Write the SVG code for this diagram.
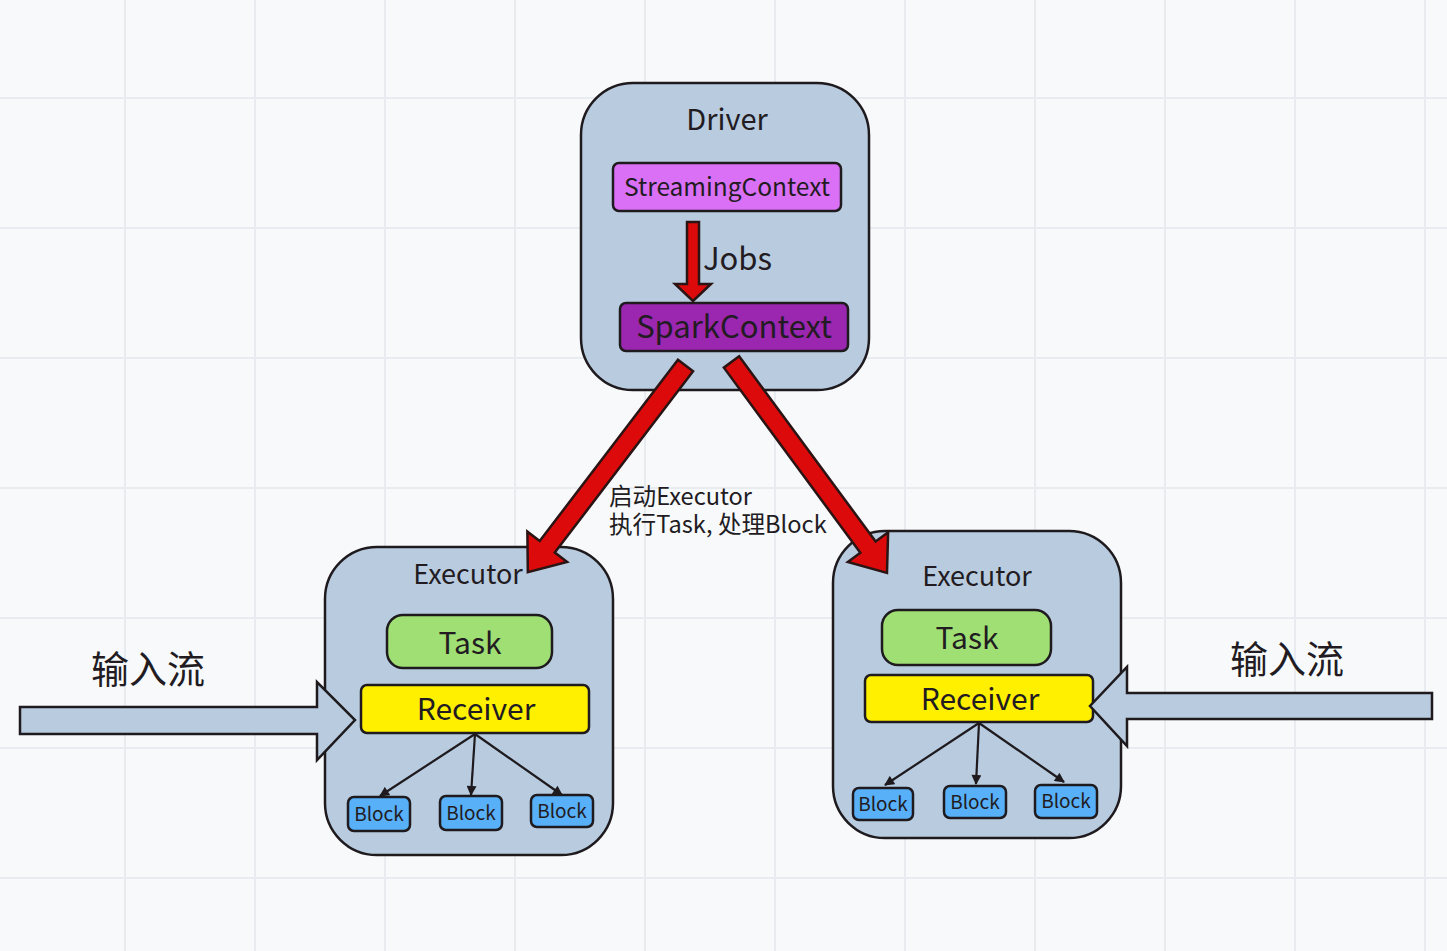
<svg xmlns="http://www.w3.org/2000/svg" width="1447" height="951" viewBox="0 0 1447 951">
<defs>
<style>
text{font-family:"Noto Sans CJK SC","Noto Sans",sans-serif;fill:#221c22;text-anchor:middle}
.cont{fill:#b8cbdf;stroke:#1e1a1e;stroke-width:2.5}
.box{stroke:#1e1a1e;stroke-width:2.5}
.red{fill:#dc0a0a;stroke:#2a1414;stroke-width:2.5;stroke-linejoin:miter}
.in{fill:#b8cbdf;stroke:#1e1a1e;stroke-width:2.5}
.blk{fill:#58b0f8;stroke:#1e1a1e;stroke-width:2.5}
.bt{font-size:19px}
.conn{stroke:#1e1a1e;stroke-width:2.2;fill:none;marker-end:url(#ah)}
.grid{stroke:#e8ebef;stroke-width:2}
</style>
<marker id="ah" viewBox="0 0 10 10" refX="9" refY="5" markerWidth="11" markerHeight="10" orient="auto" markerUnits="userSpaceOnUse">
<path d="M0,0 L10,5 L0,10 z" fill="#1e1a1e"/>
</marker>
</defs>
<rect width="1447" height="951" fill="#f7f9fb"/>
<g id="grid" class="grid">
<line x1="125" y1="0" x2="125" y2="951"/><line x1="255" y1="0" x2="255" y2="951"/><line x1="385" y1="0" x2="385" y2="951"/><line x1="515" y1="0" x2="515" y2="951"/><line x1="645" y1="0" x2="645" y2="951"/><line x1="775" y1="0" x2="775" y2="951"/><line x1="905" y1="0" x2="905" y2="951"/><line x1="1035" y1="0" x2="1035" y2="951"/><line x1="1165" y1="0" x2="1165" y2="951"/><line x1="1295" y1="0" x2="1295" y2="951"/><line x1="1425" y1="0" x2="1425" y2="951"/>
<line x1="0" y1="98" x2="1447" y2="98"/><line x1="0" y1="228" x2="1447" y2="228"/><line x1="0" y1="358" x2="1447" y2="358"/><line x1="0" y1="488" x2="1447" y2="488"/><line x1="0" y1="618" x2="1447" y2="618"/><line x1="0" y1="748" x2="1447" y2="748"/><line x1="0" y1="878" x2="1447" y2="878"/>
</g>

<g id="driver">
<rect class="cont" x="581" y="83" width="288" height="307" rx="52"/>
<text x="727" y="130" font-size="29">Driver</text>
</g>
<g id="streamingcontext">
<rect class="box" x="613" y="163" width="228" height="48" rx="6" fill="#d970f5"/>
<text x="727" y="196" font-size="24.5">StreamingContext</text>
</g>
<g id="sparkcontext">
<rect class="box" x="620" y="303" width="228" height="48" rx="6" fill="#9b26b0"/>
<text x="734" y="338" font-size="31">SparkContext</text>
</g>

<g id="executor-left">
<rect class="cont" x="325" y="547" width="288" height="308" rx="52"/>
<text x="468" y="584" font-size="27">Executor</text>
</g>
<g id="task-left">
<rect class="box" x="387" y="615" width="165" height="53" rx="16" fill="#a0df74"/>
<text x="470" y="654" font-size="30">Task</text>
</g>
<g id="receiver-left">
<rect class="box" x="361" y="685" width="228" height="48" rx="6" fill="#fff000"/>
<text x="476" y="720" font-size="30">Receiver</text>
</g>
<g id="block-l1"><rect class="blk" x="348" y="797" width="62" height="34" rx="6"/><text class="bt" x="379" y="821">Block</text></g>
<g id="block-l2"><rect class="blk" x="440" y="796" width="62" height="34" rx="6"/><text class="bt" x="471" y="820">Block</text></g>
<g id="block-l3"><rect class="blk" x="531" y="795" width="62" height="32" rx="6"/><text class="bt" x="562" y="818">Block</text></g>

<g id="executor-right">
<rect class="cont" x="833" y="531" width="288" height="307" rx="52"/>
<text x="977" y="586" font-size="27">Executor</text>
</g>
<g id="task-right">
<rect class="box" x="882" y="610" width="169" height="55" rx="16" fill="#a0df74"/>
<text x="967" y="649" font-size="30">Task</text>
</g>
<g id="receiver-right">
<rect class="box" x="865" y="675" width="228" height="47" rx="6" fill="#fff000"/>
<text x="980" y="710" font-size="30">Receiver</text>
</g>
<g id="block-r1"><rect class="blk" x="853" y="788" width="60" height="32" rx="6"/><text class="bt" x="883" y="811">Block</text></g>
<g id="block-r2"><rect class="blk" x="944" y="786" width="62" height="32" rx="6"/><text class="bt" x="975" y="809">Block</text></g>
<g id="block-r3"><rect class="blk" x="1035" y="785" width="62" height="33" rx="6"/><text class="bt" x="1066" y="808">Block</text></g>

<g id="input-left">
<polygon class="in" points="20,707 317,707 317,682 355,720 317,760 317,734 20,734"/>
<text x="148" y="683" font-size="38">输入流</text>
</g>
<g id="input-right">
<polygon class="in" points="1432,693 1127,693 1127,667 1090,706 1127,746 1127,719 1432,719"/>
<text x="1287" y="673" font-size="38">输入流</text>
</g>

<g id="connectors">
<polygon class="red" transform="translate(693,222) rotate(90)" points="0,-6 62,-6 62,-18 79,0 62,18 62,6 0,6"/>
<text x="703" y="270" font-size="31" style="text-anchor:start">Jobs</text>
<polygon class="red" transform="translate(685.5,365.5) rotate(127.33)" points="0,-9.5 228,-9.5 228,-25 260,0 228,25 228,9.5 0,9.5"/>
<polygon class="red" transform="translate(731.5,362) rotate(53.6)" points="0,-9.5 230,-9.5 230,-25 262,0 230,25 230,9.5 0,9.5"/>
<text font-size="23.6" style="text-anchor:start"><tspan x="609" y="505">启动Executor</tspan><tspan x="609" y="533">执行Task, 处理Block</tspan></text>
<line class="conn" x1="475" y1="734" x2="380" y2="796"/>
<line class="conn" x1="475" y1="734" x2="471" y2="795"/>
<line class="conn" x1="475" y1="734" x2="562" y2="795"/>
<line class="conn" x1="979" y1="723" x2="885" y2="785"/>
<line class="conn" x1="979" y1="723" x2="976" y2="784"/>
<line class="conn" x1="979" y1="723" x2="1064" y2="782"/>
</g>
</svg>
